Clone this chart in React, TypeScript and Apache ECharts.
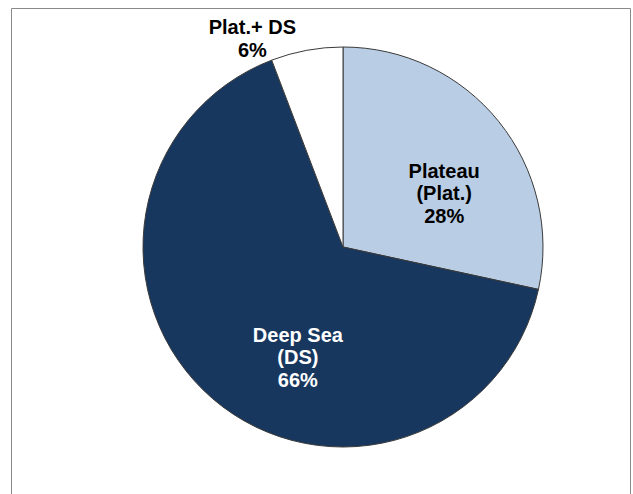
import React, { useEffect, useRef } from "react";
import * as echarts from "echarts";

const categories = ["Plateau\n(Plat.)", "Deep Sea\n(DS)", "Plat.+ DS"];
const values = [28.4, 65.8, 5.8];
const colors = ["#b9cde5", "#17375e", "#ffffff"];
const labelColors = ["#000000", "#ffffff", "#000000"];
const labelShift: [number, number][] = [
  [21, 11],
  [22, 32],
  [-72, -107],
];

export default function App() {
  const ref = useRef<HTMLDivElement>(null);
  useEffect(() => {
    document.body.style.margin = "0";
    const chart = echarts.init(ref.current!, undefined, { renderer: "svg" });
    const font = 'Arial, "Liberation Sans", sans-serif';
    chart.setOption({
      animation: false,
      backgroundColor: "#ffffff",
      graphic: [
        {
          type: "rect",
          shape: { x: 11.5, y: 8.5, width: 619, height: 520 },
          style: { fill: "none", stroke: "#8a8a8a", lineWidth: 1 },
          silent: true,
        },
      ],
      series: [
        {
          type: "pie",
          center: [343, 247],
          radius: [0, 200],
          startAngle: 90,
          clockwise: true,
          avoidLabelOverlap: false,
          labelLine: { show: false },
          itemStyle: { borderColor: "#3a3a3a", borderWidth: 1 },
          label: {
            show: true,
            position: "inside",
            fontFamily: font,
            fontWeight: "bold",
            fontSize: 20,
            lineHeight: 22.5,
            align: "center",
            formatter: (p: any) => `${p.name}\n${Math.round(p.value)}%`,
          },
          labelLayout: (p: any) => ({
            dx: labelShift[p.dataIndex][0],
            dy: labelShift[p.dataIndex][1],
          }),
          data: categories.map((name, i) => ({
            name,
            value: values[i],
            itemStyle: { color: colors[i] },
            label: { color: labelColors[i] },
          })),
        },
      ],
    });
    return () => chart.dispose();
  }, []);
  return <div ref={ref} style={{ width: 633, height: 494 }} />;
}
